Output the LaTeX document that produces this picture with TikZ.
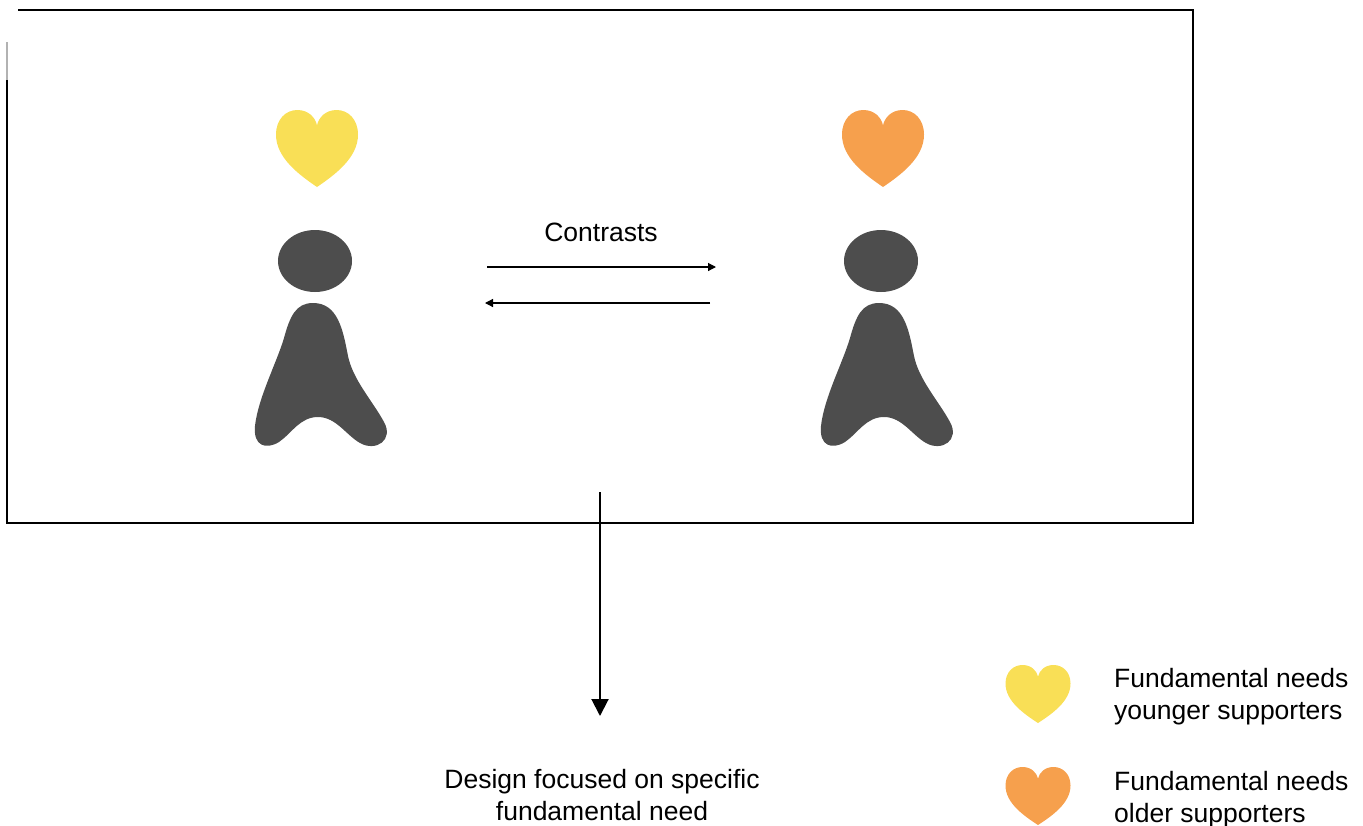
\documentclass[tikz,border=0pt]{standalone}
\usepackage{fontspec}
\setmainfont{Liberation Sans}
\usetikzlibrary{arrows.meta}
\definecolor{heartyellow}{HTML}{F9DF56}
\definecolor{heartorange}{HTML}{F6A04D}
\definecolor{persongray}{HTML}{4D4D4D}
\tikzset{
  txt/.style={font=\fontsize{26.5}{32}\selectfont, inner sep=0pt, text=black},
  thinarrow/.style={line width=1.2pt, -{Triangle[width=8pt,length=8pt]}},
  bigarrow/.style={line width=2pt, -{Triangle[width=17pt,length=17pt]}},
  frame/.style={line width=2.2pt, line join=miter},
  pics/heart/.style={code={
    \path[pic actions]
      (0,1) .. controls (-0.22,0.84) and (-0.5,0.62) .. (-0.5,0.32)
      .. controls (-0.5,0.12) and (-0.38,0) .. (-0.24,0)
      .. controls (-0.1,0) and (-0.02,0.1) .. (0,0.2)
      .. controls (0.02,0.1) and (0.1,0) .. (0.24,0)
      .. controls (0.38,0) and (0.5,0.12) .. (0.5,0.32)
      .. controls (0.5,0.62) and (0.22,0.84) .. (0,1) -- cycle;
  }},
  pics/person/.style={code={
    \fill[persongray] (315,261) ellipse[x radius=37, y radius=31];
    \fill[persongray]
      (313,303) .. controls (296,303) and (290,316) .. (284,338)
      .. controls (277,362) and (258,398) .. (255,426)
      .. controls (253,446) and (266,450) .. (279,442)
      .. controls (292,433) and (300,417) .. (318,417)
      .. controls (336,417) and (346,435) .. (360,443)
      .. controls (376,452) and (394,440) .. (384,422)
      .. controls (372,400) and (353,380) .. (348,356)
      .. controls (343,330) and (338,303) .. (313,303) -- cycle;
  }}
}
\begin{document}
\begin{tikzpicture}[x=1pt,y=-1pt]
\useasboundingbox (0,0) rectangle (1363,825);
% frame
\draw[frame] (18,10) -- (1193,10) -- (1193,523) -- (7,523) -- (7,80);
\draw[line width=2.2pt, black!30] (7,80) -- (7,42);
% people
\pic at (0,0) {person};
\pic at (566,0) {person};
% hearts
\pic[fill=heartyellow, xscale=82, yscale=77] at (317,110) {heart};
\pic[fill=heartorange, xscale=82, yscale=77] at (883,110) {heart};
% contrasts
\node[txt] (contrasts) at (601,232) {Contrasts};
\coordinate (ra) at (487,267);
\coordinate (rb) at (716,267);
\coordinate (la) at (710,303);
\coordinate (lb) at (485,303);
\draw[thinarrow] (ra) -- (rb);
\draw[thinarrow] (la) -- (lb);
% down arrow
\node[txt, align=center] (design) at (602,795) {Design focused on specific\\fundamental need};
\coordinate (da) at (600,492);
\coordinate (db) at (600,716);
\draw[bigarrow] (da) -- (db);
% legend
\pic[fill=heartyellow, xscale=65, yscale=58] at (1038,665) {heart};
\pic[fill=heartorange, xscale=65, yscale=58] at (1038,767) {heart};
\node[txt, align=left, anchor=west] (leg1) at (1114,697) {Fundamental needs\\younger supporters};
\node[txt, align=left, anchor=west] (leg2) at (1114,800) {Fundamental needs\\older supporters};
\end{tikzpicture}
\end{document}
